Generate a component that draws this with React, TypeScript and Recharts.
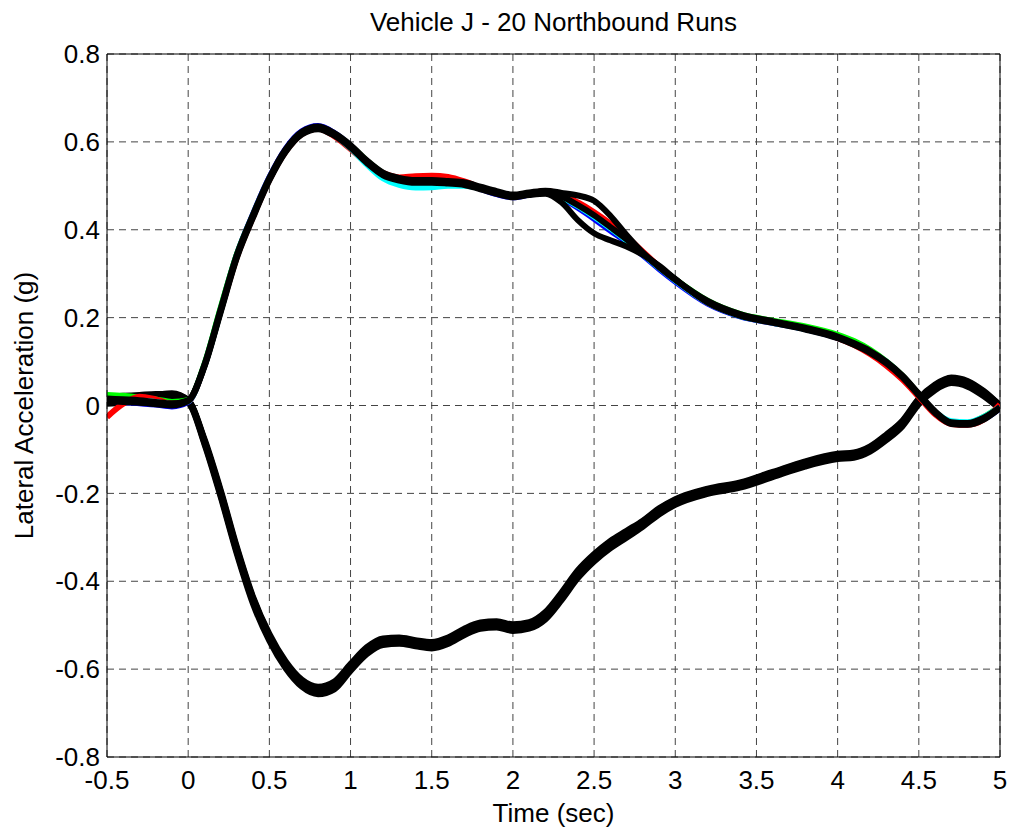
import React from "react";
import {
  CartesianGrid,
  Label,
  Line,
  LineChart,
  ReferenceLine,
  XAxis,
  YAxis,
} from "recharts";

// sample times (sec)
const time = [
  -0.5, -0.4, -0.3, -0.2, -0.1, 0,
  0.1, 0.2, 0.3, 0.4, 0.5, 0.6, 0.7, 0.8, 0.9, 1.0,
  1.1, 1.2, 1.3, 1.4, 1.5, 1.6, 1.7, 1.8, 1.9, 2.0,
  2.1, 2.2, 2.3, 2.4, 2.5, 2.6, 2.7, 2.8, 2.9, 3.0,
  3.2, 3.4, 3.6, 3.8,
  4.0, 4.1, 4.2, 4.3, 4.4, 4.5, 4.6, 4.7, 4.8, 4.9, 5.0,
];

// negative-going runs (all black)
const neg1 = [
  0.020, 0.022, 0.024, 0.026, 0.026, 0.012,
  -0.076, -0.192, -0.322, -0.436, -0.520, -0.582, -0.624, -0.640, -0.628, -0.588,
  -0.550, -0.530, -0.528, -0.534, -0.538, -0.528, -0.508, -0.494, -0.491, -0.498,
  -0.493, -0.470, -0.425, -0.375, -0.338, -0.308, -0.285, -0.262, -0.234, -0.213,
  -0.189, -0.175, -0.151, -0.127,
  -0.110, -0.107, -0.093, -0.066, -0.034, 0.016, 0.048, 0.064, 0.056, 0.033, 0.000,
];
const neg2 = [
  0.010, 0.014, 0.018, 0.022, 0.024, 0.010,
  -0.080, -0.198, -0.328, -0.441, -0.525, -0.588, -0.630, -0.647, -0.636, -0.594,
  -0.556, -0.535, -0.532, -0.538, -0.543, -0.533, -0.513, -0.498, -0.495, -0.503,
  -0.498, -0.476, -0.431, -0.381, -0.343, -0.313, -0.290, -0.266, -0.238, -0.217,
  -0.192, -0.178, -0.154, -0.130,
  -0.113, -0.110, -0.096, -0.070, -0.038, 0.012, 0.044, 0.060, 0.052, 0.030, -0.002,
];
const neg3 = [
  0.008, 0.010, 0.014, 0.020, 0.022, 0.010,
  -0.082, -0.200, -0.330, -0.443, -0.527, -0.590, -0.632, -0.649, -0.638, -0.596,
  -0.558, -0.537, -0.534, -0.540, -0.545, -0.535, -0.515, -0.500, -0.497, -0.505,
  -0.500, -0.478, -0.433, -0.383, -0.345, -0.315, -0.292, -0.268, -0.240, -0.219,
  -0.194, -0.180, -0.156, -0.132,
  -0.115, -0.112, -0.098, -0.072, -0.040, 0.010, 0.042, 0.058, 0.050, 0.028, -0.003,
];
const neg4 = [
  0.006, 0.008, 0.012, 0.018, 0.020, 0.008,
  -0.085, -0.204, -0.334, -0.447, -0.531, -0.594, -0.636, -0.653, -0.642, -0.600,
  -0.562, -0.541, -0.538, -0.544, -0.549, -0.539, -0.519, -0.504, -0.501, -0.509,
  -0.504, -0.482, -0.438, -0.388, -0.350, -0.320, -0.297, -0.272, -0.244, -0.223,
  -0.198, -0.184, -0.160, -0.136,
  -0.119, -0.116, -0.102, -0.076, -0.044, 0.006, 0.038, 0.054, 0.046, 0.024, -0.006,
];
const neg5 = [
  0.004, 0.006, 0.010, 0.016, 0.018, 0.006,
  -0.088, -0.208, -0.338, -0.452, -0.536, -0.598, -0.640, -0.657, -0.646, -0.604,
  -0.566, -0.545, -0.542, -0.548, -0.553, -0.543, -0.523, -0.508, -0.505, -0.513,
  -0.508, -0.487, -0.443, -0.393, -0.355, -0.325, -0.301, -0.276, -0.248, -0.226,
  -0.201, -0.187, -0.163, -0.139,
  -0.122, -0.119, -0.105, -0.079, -0.047, 0.003, 0.035, 0.051, 0.043, 0.021, -0.008,
];
const neg6 = [
  0.012, 0.016, 0.020, 0.024, 0.028, 0.012,
  -0.079, -0.196, -0.326, -0.439, -0.523, -0.586, -0.628, -0.645, -0.634, -0.592,
  -0.554, -0.533, -0.530, -0.536, -0.541, -0.531, -0.511, -0.496, -0.493, -0.501,
  -0.496, -0.474, -0.429, -0.379, -0.341, -0.311, -0.288, -0.264, -0.236, -0.215,
  -0.191, -0.177, -0.153, -0.129,
  -0.112, -0.109, -0.095, -0.068, -0.036, 0.014, 0.046, 0.062, 0.054, 0.031, 0.001,
];

// positive-going runs
const posBlue = [
  0.012, 0.008, 0.005, 0.002, -0.002, 0.008,
  0.092, 0.220, 0.344, 0.436, 0.519, 0.584, 0.624, 0.636, 0.620, 0.591,
  0.554, 0.526, 0.514, 0.511, 0.512, 0.511, 0.505, 0.493, 0.481, 0.474,
  0.480, 0.485, 0.472, 0.450, 0.425, 0.398, 0.372, 0.342, 0.311, 0.282,
  0.232, 0.203, 0.188, 0.174,
  0.154, 0.140, 0.121, 0.097, 0.065, 0.024, -0.016, -0.041, -0.043, -0.031, -0.006,
];
const posGreen = [
  0.024, 0.022, 0.018, 0.014, 0.008, 0.012,
  0.094, 0.222, 0.344, 0.434, 0.516, 0.580, 0.620, 0.632, 0.618, 0.591,
  0.557, 0.529, 0.516, 0.509, 0.508, 0.507, 0.504, 0.495, 0.486, 0.478,
  0.482, 0.486, 0.475, 0.455, 0.432, 0.405, 0.377, 0.346, 0.315, 0.287,
  0.238, 0.208, 0.193, 0.180,
  0.161, 0.147, 0.127, 0.100, 0.067, 0.025, -0.016, -0.038, -0.040, -0.026, -0.002,
];
const posRed = [
  -0.026, 0.004, 0.020, 0.014, 0.004, 0.010,
  0.090, 0.215, 0.338, 0.430, 0.514, 0.578, 0.618, 0.630, 0.613, 0.584,
  0.552, 0.529, 0.519, 0.522, 0.523, 0.520, 0.510, 0.496, 0.484, 0.476,
  0.482, 0.488, 0.480, 0.462, 0.440, 0.414, 0.384, 0.350, 0.316, 0.286,
  0.234, 0.205, 0.190, 0.175,
  0.154, 0.138, 0.117, 0.091, 0.059, 0.020, -0.020, -0.042, -0.044, -0.032, 0.002,
];
const posCyan = [
  0.015, 0.012, 0.010, 0.008, 0.003, 0.010,
  0.090, 0.215, 0.340, 0.432, 0.516, 0.580, 0.621, 0.632, 0.616, 0.586,
  0.549, 0.517, 0.502, 0.496, 0.497, 0.500, 0.500, 0.494, 0.484, 0.476,
  0.481, 0.485, 0.474, 0.454, 0.430, 0.404, 0.376, 0.345, 0.314, 0.285,
  0.234, 0.204, 0.189, 0.174,
  0.155, 0.141, 0.122, 0.099, 0.066, 0.024, -0.015, -0.036, -0.038, -0.026, -0.004,
];
const posBlackA = [
  0.010, 0.008, 0.006, 0.003, 0.000, 0.010,
  0.088, 0.212, 0.336, 0.428, 0.512, 0.577, 0.617, 0.629, 0.614, 0.587,
  0.552, 0.524, 0.512, 0.507, 0.507, 0.505, 0.502, 0.492, 0.482, 0.474,
  0.479, 0.482, 0.462, 0.422, 0.392, 0.376, 0.362, 0.343, 0.318, 0.288,
  0.234, 0.204, 0.188, 0.173,
  0.153, 0.138, 0.120, 0.096, 0.064, 0.023, -0.017, -0.042, -0.044, -0.032, -0.006,
];
const posBlackB = [
  0.016, 0.014, 0.012, 0.008, 0.005, 0.012,
  0.093, 0.219, 0.343, 0.435, 0.518, 0.583, 0.623, 0.635, 0.620, 0.593,
  0.558, 0.530, 0.518, 0.513, 0.513, 0.511, 0.508, 0.498, 0.488, 0.480,
  0.485, 0.489, 0.484, 0.478, 0.466, 0.432, 0.388, 0.348, 0.316, 0.287,
  0.238, 0.208, 0.192, 0.177,
  0.157, 0.142, 0.124, 0.100, 0.068, 0.027, -0.013, -0.038, -0.040, -0.028, -0.004,
];
const posBlackC = [
  0.012, 0.010, 0.008, 0.005, 0.002, 0.011,
  0.090, 0.216, 0.340, 0.432, 0.515, 0.580, 0.620, 0.632, 0.617, 0.590,
  0.555, 0.527, 0.515, 0.510, 0.510, 0.508, 0.505, 0.495, 0.485, 0.477,
  0.482, 0.486, 0.476, 0.456, 0.433, 0.406, 0.378, 0.346, 0.315, 0.286,
  0.236, 0.206, 0.190, 0.175,
  0.155, 0.140, 0.122, 0.098, 0.066, 0.025, -0.015, -0.040, -0.042, -0.030, -0.005,
];

const xTicks = [-0.5, 0, 0.5, 1, 1.5, 2, 2.5, 3, 3.5, 4, 4.5, 5];
const yTicks = [-0.8, -0.6, -0.4, -0.2, 0, 0.2, 0.4, 0.6, 0.8];

// draw order: black negatives, coloured positives, then black positives on top
const runs = [
  { key: "n1", color: "#000000", values: neg1 },
  { key: "n2", color: "#000000", values: neg2 },
  { key: "n3", color: "#000000", values: neg3 },
  { key: "n4", color: "#000000", values: neg4 },
  { key: "n5", color: "#000000", values: neg5 },
  { key: "n6", color: "#000000", values: neg6 },
  { key: "pb", color: "#0000ff", values: posBlue },
  { key: "pg", color: "#00ff00", values: posGreen },
  { key: "pr", color: "#ff0000", values: posRed },
  { key: "pc", color: "#00ffff", values: posCyan },
  { key: "pk1", color: "#000000", values: posBlackA },
  { key: "pk2", color: "#000000", values: posBlackB },
  { key: "pk3", color: "#000000", values: posBlackC },
];

const data = time.map((t, i) => {
  const row: Record<string, number> = { t };
  runs.forEach((r) => {
    row[r.key] = r.values[i];
  });
  return row;
});

const font = "'Liberation Sans', Arial, Helvetica, sans-serif";

export default function App() {
  return (
    <div
      style={{
        position: "absolute",
        left: 0,
        top: 0,
        width: 1013,
        height: 831,
        background: "#fff",
        fontFamily: font,
      }}
    >
      <div
        style={{
          position: "absolute",
          left: 107,
          width: 893,
          top: 9,
          fontSize: 26,
          lineHeight: "26px",
          textAlign: "center",
          color: "#000",
        }}
      >
        Vehicle J - 20 Northbound Runs
      </div>
      <LineChart
        width={1013}
        height={831}
        data={data}
        margin={{ top: 54, right: 13, bottom: 0, left: 0 }}
        style={{ fontFamily: font }}
      >
        <CartesianGrid stroke="#444" strokeDasharray="7 5" />
        <XAxis
          dataKey="t"
          type="number"
          domain={[-0.5, 5]}
          ticks={xTicks}
          interval={0}
          height={74}
          tickSize={0}
          tickMargin={14}
          tickLine={false}
          axisLine={{ stroke: "#000" }}
          tick={{ fill: "#000", fontSize: 26 }}
          allowDataOverflow
        >
          <Label
            value="Time (sec)"
            position="insideBottom"
            offset={9}
            style={{ fill: "#000", fontSize: 26 }}
          />
        </XAxis>
        <YAxis
          type="number"
          domain={[-0.8, 0.8]}
          ticks={yTicks}
          interval={0}
          width={107}
          tickSize={0}
          tickMargin={7}
          tickLine={false}
          axisLine={{ stroke: "#000" }}
          tick={{ fill: "#000", fontSize: 26 }}
          allowDataOverflow
        >
          <Label
            value="Lateral Acceleration (g)"
            position="insideLeft"
            angle={-90}
            offset={24}
            style={{ fill: "#000", fontSize: 26, textAnchor: "middle" }}
          />
        </YAxis>
        <ReferenceLine y={0.8} stroke="#000" />
        <ReferenceLine x={5} stroke="#000" />
        {runs.map((r) => (
          <Line
            key={r.key}
            type="monotone"
            dataKey={r.key}
            stroke={r.color}
            strokeWidth={6}
            strokeLinejoin="round"
            dot={false}
            activeDot={false}
            isAnimationActive={false}
          />
        ))}
      </LineChart>
    </div>
  );
}
